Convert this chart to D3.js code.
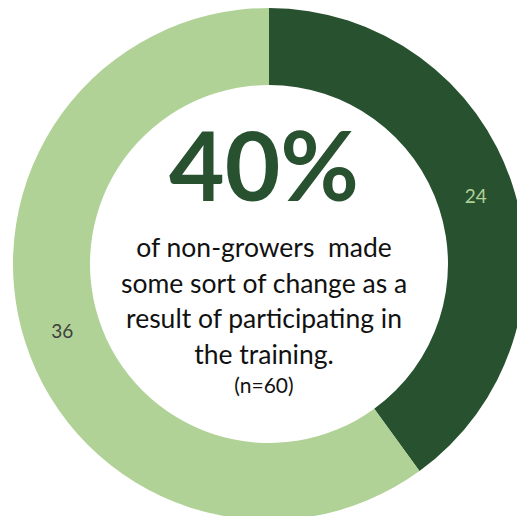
<!DOCTYPE html>
<html><head><meta charset="utf-8">
<script src="https://cdn.jsdelivr.net/npm/d3@7"></script>
<style>body{margin:0;background:#fff;}svg{display:block;} text{white-space:pre;}</style>
</head><body>
<svg id="c" width="517" height="516"></svg>
<script>
const categories = ["Made a change", "No change"];
const values = [24, 36];
const colors = ["#285130", "#b0d296"];
const labelColors = ["#b0d296", "#404040"];
const headline = "40%";
const bodyLines = ["of non-growers  made", "some sort of change as a", "result of participating in", "the training."];
const nLabel = "(n=60)";

const svg = d3.select("#c");
const cx = 269, cy = 264, R = 256, r = 179;
const g = svg.append("g").attr("transform", `translate(${cx},${cy})`);
const pie = d3.pie().sort(null).value(d => d)(values);
const arc = d3.arc().innerRadius(r).outerRadius(R);
g.selectAll("path").data(pie).join("path")
  .attr("d", arc).attr("fill", (d,i) => colors[i]);
g.selectAll("text.lbl").data(pie).join("text").attr("class","lbl")
  .attr("transform", d => `translate(${arc.centroid(d)})`)
  .attr("text-anchor","middle").attr("dy","0.35em")
  .attr("font-family","Lato, 'Open Sans', sans-serif").attr("font-size",19)
  .attr("fill",(d,i)=>labelColors[i]).text(d=>d.data);

const font = "Lato, 'Open Sans', sans-serif";
svg.append("text").attr("x",264).attr("y",201).attr("text-anchor","middle")
  .attr("font-family",font).attr("font-weight","bold").attr("font-size",96)
  .attr("fill","#285130").text(headline);
svg.append("g").selectAll("text").data(bodyLines).join("text")
  .attr("x",264).attr("y",(d,i)=>257+i*35.5).attr("text-anchor","middle")
  .attr("font-family",font).attr("font-size",26.5).attr("fill","#111")
  .text(d=>d);
svg.append("text").attr("x",264).attr("y",393).attr("text-anchor","middle")
  .attr("font-family",font).attr("font-size",21).attr("fill","#111").text(nLabel);
</script>
</body></html>
